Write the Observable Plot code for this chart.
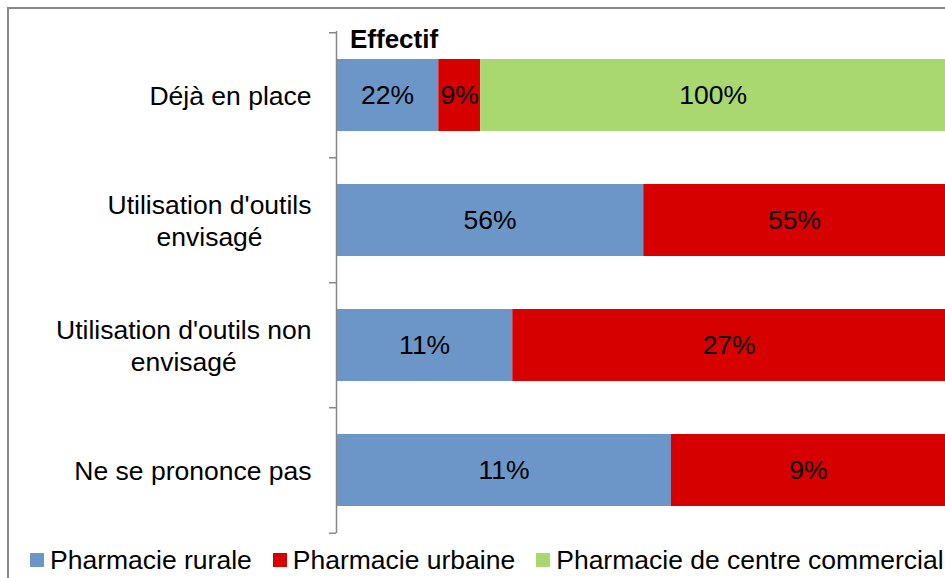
<!DOCTYPE html>
<html>
<head>
<meta charset="utf-8">
<script src="https://cdn.jsdelivr.net/npm/d3@7"></script>
<script src="https://cdn.jsdelivr.net/npm/@observablehq/plot@0.6"></script>
<style>
html, body { margin: 0; padding: 0; background: #fff; overflow: hidden; }
#wrap { position: relative; width: 945px; height: 578px; overflow: hidden; background: #fff;
  font-family: "Liberation Sans", Arial, sans-serif; }
#frame { position: absolute; left: 7px; top: 7px; width: 1200px; height: 1200px; box-sizing: border-box;
  border-top: 2px solid #898989; border-left: 2px solid #898989; }
#chart { position: absolute; left: 0; top: 0; }
#title { position: absolute; left: 350px; top: 26px; font-weight: bold; font-size: 26px; line-height: 26px; color: #000; white-space: nowrap; }
#legend { position: absolute; left: 30px; top: 545px; width: 1200px; }
#legend .leg-swatches, #legend .leg-swatches-wrap { font-family: "Liberation Sans", Arial, sans-serif !important; font-size: 26.5px !important;
  line-height: 30px !important; margin: 0 !important; min-height: 30px !important; flex-wrap: nowrap !important; color: #000; white-space: nowrap; }
#legend .leg-swatch { margin-right: 21px !important; }
#legend .leg-swatch > svg { margin-right: 6px !important; }
</style>
</head>
<body>
<div id="wrap">
  <div id="frame"></div>
  <div id="chart"></div>
  <div id="title">Effectif</div>
  <div id="legend"></div>
</div>
<script>
// ---- data ----
const categories = ["Déjà en place", "Utilisation d'outils envisagé", "Utilisation d'outils non envisagé", "Ne se prononce pas"];
const tickLabels = ["Déjà en place", "Utilisation d'outils\nenvisagé", "Utilisation d'outils non\nenvisagé", "Ne se prononce pas"];
const series = ["Pharmacie rurale", "Pharmacie urbaine", "Pharmacie de centre commercial"];
const colors = ["#6C96C8", "#D70000", "#A8D86F"];
const rurale = [22, 56, 11, 11];
const urbaine = [9, 55, 27, 9];
const commercial = [100, null, null, null];

const rows = [];
[rurale, urbaine, commercial].forEach((vals, si) => {
  categories.forEach((c, ci) => {
    const v = vals[ci];
    if (v != null) rows.push({cat: c, series: series[si], value: v, label: v + "%"});
  });
});

// ---- layout ----
const W = 945, H = 545, mTop = 31, mBottom = 12, mLeft = 336;
const step = (H - mBottom - mTop) / categories.length;
const FONT = "'Liberation Sans', Arial, sans-serif";
const FS = 26.5;

const ctx = document.createElement("canvas").getContext("2d");
ctx.font = FS + "px 'Liberation Sans'";
const widths = tickLabels.map(t => Math.max(...t.split("\n").map(l => ctx.measureText(l).width)));

const chart = Plot.plot({
  width: W, height: H,
  marginTop: mTop, marginBottom: mBottom, marginLeft: mLeft, marginRight: 0,
  style: {fontFamily: FONT, fontSize: FS + "px", color: "#000", background: "transparent", overflow: "visible"},
  x: {domain: [0, 1], axis: null},
  y: {domain: categories, paddingInner: 0.426, paddingOuter: 0.213, label: null},
  color: {domain: series, range: colors},
  marks: [
    Plot.barX(rows, Plot.stackX({x: "value", y: "cat", fill: "series", order: series, offset: "normalize"})),
    Plot.text(rows, Plot.stackX({x: "value", y: "cat", z: "series", order: series, offset: "normalize", text: "label", fill: "#000"})),
    Plot.ruleX([0], {stroke: "#868686", strokeWidth: 1.5}),
    Plot.axisY(categories, {tickSize: 7, tickFormat: () => "", dy: -step / 2, stroke: "#868686", strokeWidth: 1.5, label: null}),
    Plot.axisY([categories[categories.length - 1]], {tickSize: 7, tickFormat: () => "", dy: step / 2, stroke: "#868686", strokeWidth: 1.5, label: null}),
    ...categories.map((c, i) => Plot.axisY([c], {
      tickSize: 0, tickPadding: 25, textAnchor: "middle", dx: -widths[i] / 2, dy: -1,
      tickFormat: () => tickLabels[i], lineHeight: 1.22, fill: "#000", label: null
    }))
  ]
});
document.getElementById("chart").appendChild(chart);

const legend = Plot.legend({
  color: {domain: series, range: colors},
  swatchSize: 14,
  className: "leg",
  style: {fontFamily: FONT, fontSize: FS + "px", color: "#000"}
});
document.getElementById("legend").appendChild(legend);
</script>
</body>
</html>
